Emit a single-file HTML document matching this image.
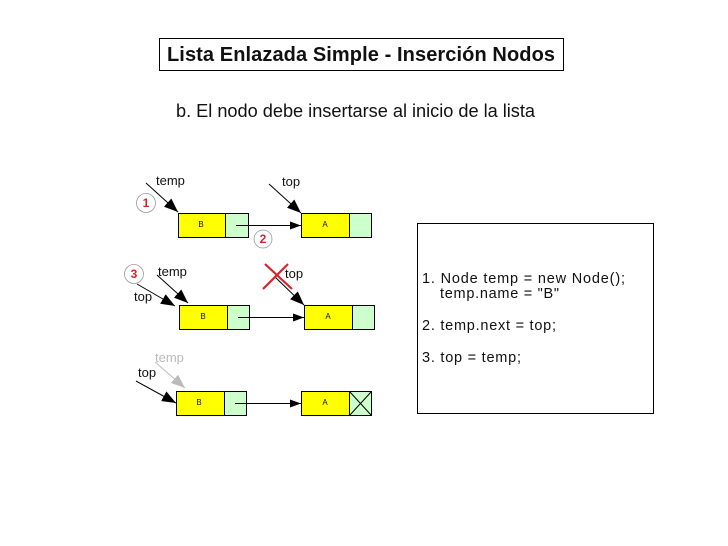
<!DOCTYPE html>
<html><head><meta charset="utf-8"><style>
html,body{margin:0;padding:0;background:#fff}
svg{display:block}
text{font-family:"Liberation Sans",Arial,sans-serif;fill:#111}
</style></head><body>
<svg width="728" height="546" viewBox="0 0 728 546" xmlns="http://www.w3.org/2000/svg">
<defs>
<marker id="a" markerWidth="15" markerHeight="11" refX="14" refY="5.5" orient="auto" markerUnits="userSpaceOnUse"><path d="M0 0L14 5.5L0 11Z" fill="#000"/></marker>
<marker id="s" markerWidth="12" markerHeight="8" refX="11" refY="4" orient="auto" markerUnits="userSpaceOnUse"><path d="M0 0L11 4L0 8Z" fill="#000"/></marker>
<marker id="g" markerWidth="15" markerHeight="11" refX="14" refY="5.5" orient="auto" markerUnits="userSpaceOnUse"><path d="M0 0L14 5.5L0 11Z" fill="#bbb"/></marker>
</defs>
<rect x="159.5" y="38.5" width="404" height="32" fill="#fff" stroke="#000" stroke-width="1"/>
<text x="167" y="61" font-size="20" font-weight="bold" textLength="388" lengthAdjust="spacing">Lista Enlazada Simple - Inserción Nodos</text>
<text x="176" y="117" font-size="18.2" textLength="359" lengthAdjust="spacing">b. El nodo debe insertarse al inicio de la lista</text>

<g stroke="#000" stroke-width="1">
<rect x="178.5" y="213.5" width="47" height="24" fill="#ffff00"/><rect x="225.5" y="213.5" width="23" height="24" fill="#ccffcc"/>
<rect x="301.5" y="213.5" width="48" height="24" fill="#ffff00"/><rect x="349.5" y="213.5" width="22" height="24" fill="#ccffcc"/>
<rect x="179.5" y="305.5" width="48" height="24" fill="#ffff00"/><rect x="227.5" y="305.5" width="22" height="24" fill="#ccffcc"/>
<rect x="304.5" y="305.5" width="48" height="24" fill="#ffff00"/><rect x="352.5" y="305.5" width="22" height="24" fill="#ccffcc"/>
<rect x="176.5" y="391.5" width="48" height="24" fill="#ffff00"/><rect x="224.5" y="391.5" width="22" height="24" fill="#ccffcc"/>
<rect x="301.5" y="391.5" width="48" height="24" fill="#ffff00"/><rect x="349.5" y="391.5" width="22" height="24" fill="#ccffcc"/>
<path d="M349.5 391.5L371.5 415.5M371.5 391.5L349.5 415.5" fill="none"/>
<g fill="none">
<line x1="236" y1="225.5" x2="301" y2="225.5" marker-end="url(#s)"/>
<line x1="238" y1="317.5" x2="304" y2="317.5" marker-end="url(#s)"/>
<line x1="235" y1="403.5" x2="301" y2="403.5" marker-end="url(#s)"/>
<line x1="146" y1="183" x2="178" y2="212" marker-end="url(#a)"/>
<line x1="269" y1="184" x2="301" y2="213" marker-end="url(#a)"/>
<line x1="157" y1="275" x2="188" y2="303" marker-end="url(#a)"/>
<line x1="137" y1="284" x2="175" y2="306" marker-end="url(#a)"/>
<line x1="275" y1="277" x2="304" y2="305" marker-end="url(#a)"/>
<line x1="136" y1="381" x2="176" y2="403" marker-end="url(#a)"/>
<line x1="155" y1="362" x2="185" y2="388" stroke="#bbb" marker-end="url(#g)"/>
</g>
</g>

<path d="M265 264L292 289M288 264L263 289" stroke="#d8232a" stroke-width="2.2" fill="none"/>

<g font-size="8" text-anchor="middle">
<text x="201" y="227">B</text><text x="325" y="227">A</text>
<text x="203" y="319">B</text><text x="328" y="319">A</text>
<text x="199" y="405">B</text><text x="325" y="405">A</text>
</g>
<g font-size="13">
<text x="156" y="185">temp</text>
<text x="282" y="186">top</text>
<text x="158" y="276">temp</text>
<text x="285" y="278">top</text>
<text x="134" y="301">top</text>
<text x="138" y="377">top</text>
<text x="155" y="362" style="fill:#bbb">temp</text>
</g>

<g fill="#fff" stroke="#999" stroke-width="0.8">
<circle cx="146" cy="203" r="9.5"/>
<circle cx="263" cy="239" r="9"/>
<circle cx="134" cy="274" r="9.5"/>
</g>
<g font-size="12" font-weight="bold" text-anchor="middle">
<text x="146" y="207" style="fill:#d8232a">1</text>
<text x="263" y="243" style="fill:#d8232a">2</text>
<text x="134" y="278" style="fill:#d8232a">3</text>
</g>

<rect x="417.5" y="223.5" width="236" height="190" fill="#fff" stroke="#000" stroke-width="1"/>
<g font-size="14.5">
<text x="422" y="283" textLength="203" lengthAdjust="spacing">1. Node temp = new Node();</text>
<text x="440" y="298" textLength="119" lengthAdjust="spacing">temp.name = "B"</text>
<text x="422" y="330" textLength="134" lengthAdjust="spacing">2. temp.next = top;</text>
<text x="422" y="362" textLength="99" lengthAdjust="spacing">3. top = temp;</text>
</g>
</svg>
</body></html>
